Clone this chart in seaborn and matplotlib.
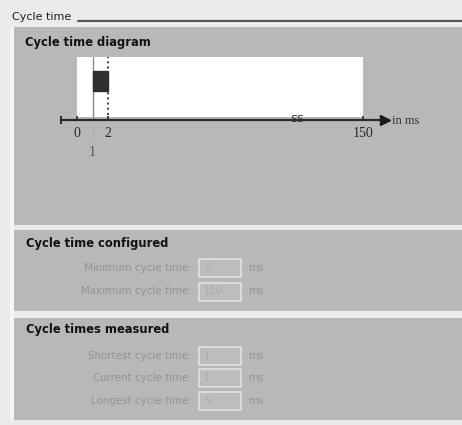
import numpy as np
import matplotlib
matplotlib.use("Agg")
import matplotlib.pyplot as plt
from matplotlib.patches import Rectangle
import seaborn as sns

# ---------------- data ----------------
axis_ticks = [0, 2, 150]
axis_tick_labels = ["0", "2", "150"]
cycle_start = 1          # ms (start of current cycle)
cycle_end = 2            # ms (end of current cycle)
max_cycle = 150          # ms (maximum cycle time)
axis_unit = "in ms"

section_title = "Cycle time"
panel_titles = ["Cycle time diagram", "Cycle time configured", "Cycle times measured"]
config_labels = ["Minimum cycle time:", "Maximum cycle time:"]
config_values = ["0", "150"]
measured_labels = ["Shortest cycle time:", "Current cycle time:", "Longest cycle time:"]
measured_values = ["1", "1", "5"]
unit_label = "ms"

# ---------------- style ----------------
sns.set_theme(style="white")
plt.rcParams["font.family"] = ["DejaVu Sans"]

W, H = 462, 425
BG = "#ebebeb"
PANEL = "#b8b8b8"
fig = plt.figure(figsize=(W / 100, H / 100), dpi=100, facecolor=BG)

bg = fig.add_axes([0, 0, 1, 1])
bg.set_xlim(0, W)
bg.set_ylim(H, 0)
bg.axis("off")
bg.set_facecolor(BG)

# section header
bg.text(12, 17, section_title, fontsize=8, color="#1e1e1e", va="center", ha="left")
bg.plot([78, W], [20.5, 20.5], color="#5a5a5a", lw=1.6)
bg.plot([78, W], [22.5, 22.5], color="#f7f7f7", lw=1.0)

# panels
panels = [(27, 225), (230, 311), (318, 420)]
for (y0, y1) in panels:
    bg.add_patch(Rectangle((14, y0), W - 14, y1 - y0, facecolor=PANEL, edgecolor="none"))
bg.add_patch(Rectangle((10, 27), 4, 394, facecolor="#f4f4f4", edgecolor="none"))

title_pos = [(25, 42), (26, 243), (26, 330)]
for (x, y), t in zip(title_pos, panel_titles):
    bg.text(x, y, t, fontsize=8.3, fontweight="bold", color="#111111", va="center", ha="left")

LABEL_C = "#929292"
def field_rows(labels, values, ys):
    for lab, val, y in zip(labels, values, ys):
        bg.text(192, y, lab, fontsize=7.4, color=LABEL_C, ha="right", va="center")
        bg.add_patch(Rectangle((199, y - 9), 42, 18, facecolor="#bdbdbd",
                               edgecolor="#e0e0e0", lw=1.2))
        bg.text(204, y, val, fontsize=7.2, color="#a9a9a9", ha="left", va="center")
        bg.text(248, y, unit_label, fontsize=7.4, color=LABEL_C, ha="left", va="center")

field_rows(config_labels, config_values, [268, 291.5])
field_rows(measured_labels, measured_values, [356, 378, 401])

# ---------------- cycle time diagram ----------------
PX_PER_MS_LOW = 15.5
PX_HIGH = 255 / 148

def fwd(v):
    v = np.asarray(v, dtype=float)
    return np.where(v <= 2, v * PX_PER_MS_LOW, 2 * PX_PER_MS_LOW + (v - 2) * PX_HIGH)

def inv(u):
    u = np.asarray(u, dtype=float)
    return np.where(u <= 2 * PX_PER_MS_LOW, u / PX_PER_MS_LOW,
                    2 + (u - 2 * PX_PER_MS_LOW) / PX_HIGH)

ax = fig.add_axes([61 / W, (H - 120) / H, 324 / W, 63 / H])
ax.set_xscale("function", functions=(fwd, inv))
xmin = float(inv(-16))
xmax = float(inv(308))
ax.set_xlim(xmin, xmax)
ax.set_ylim(0, 1)
ax.patch.set_alpha(0)

# white diagram area
ax.fill_between([axis_ticks[0], max_cycle], 0.05, 1, color="white", lw=0, zorder=0)
# cycle bar
ax.barh(0.62, cycle_end - cycle_start, left=cycle_start, height=0.31,
        color="#2f2f2f", edgecolor="#2f2f2f", zorder=3)
# marker lines
ax.plot([cycle_start, cycle_start], [0, 1], color="#8a8a8a", lw=1.0, zorder=2)
ax.plot([cycle_end, cycle_end], [0, 1], color="#3a3a3a", lw=1.4, ls=":", zorder=2)

sns.despine(ax=ax, left=True, top=True, right=True, bottom=False)
ax.spines["bottom"].set_color("#2a2a2a")
ax.spines["bottom"].set_linewidth(1.6)
ax.set_yticks([])
ax.set_xticks(axis_ticks)
ax.set_xticklabels(axis_tick_labels, family="Liberation Serif", fontsize=10, color="#2a2a2a")
ax.set_xticks([cycle_start], labels=[str(cycle_start)], minor=True)
for lab in ax.get_xticklabels(minor=True):
    lab.set_family("Liberation Serif")
    lab.set_fontsize(10)
    lab.set_color("#555555")
ax.tick_params(axis="x", which="major", direction="in", length=3, width=1.2,
               color="#2a2a2a", pad=5, bottom=True)
ax.tick_params(axis="x", which="minor", direction="in", length=0, pad=19, bottom=True)

# faint marker under "1"
ax.plot([cycle_start, cycle_start], [-0.13, -0.29], color="#a0a0a0", lw=1, ls=":",
        clip_on=False)
# axis start bar and arrow
ax.plot([xmin], [0], marker="|", ms=6, mew=1.4, color="#2a2a2a", clip_on=False)
ax.plot([xmax], [0], marker=">", ms=7, color="#1a1a1a", clip_on=False, zorder=5)
# axis break
ax.text(112, 0.03, "ss", family="DejaVu Sans", fontsize=9.5,
        color="#3a3a3a", ha="center", va="center", clip_on=False)

bg.text(392, 121, axis_unit, family="Liberation Serif", fontsize=9, color="#333333",
        ha="left", va="center")

fig.savefig("out.png", dpi=100, facecolor=BG)
